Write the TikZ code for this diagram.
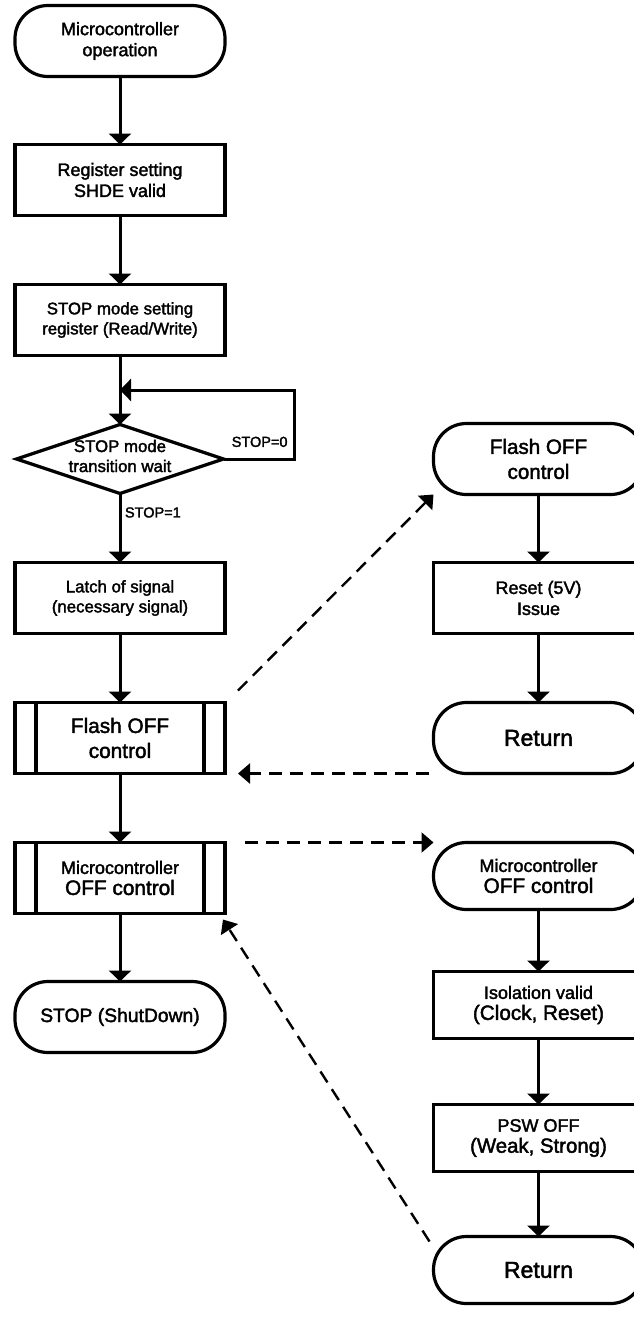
\documentclass[tikz,border=0pt]{standalone}
\usepackage{fontspec}
\setmainfont{Liberation Sans}[FakeBold=2]
\usetikzlibrary{shapes.geometric, arrows.meta, positioning, calc}

\begin{document}
\begin{tikzpicture}[
                x=1pt, y=1pt,
                every node/.style={align=center, inner sep=0pt, outer sep=0pt, font=\fontsize{18}{21}\selectfont},
                terminal/.style={rectangle, rounded corners=33pt, draw, line width=3.2pt, minimum width=210pt, minimum height=71pt},
                process/.style={rectangle, draw, line width=3.2pt, minimum width=210pt, minimum height=71pt},
                subproc/.style={process, path picture={
                    \draw[line width=3.2pt] ([xshift=21pt]path picture bounding box.north west) -- ([xshift=21pt]path picture bounding box.south west)
                        ([xshift=-21pt]path picture bounding box.north east) -- ([xshift=-21pt]path picture bounding box.south east);}},
                decision/.style={diamond, draw, line width=3.2pt, aspect=3, minimum width=207pt, minimum height=69pt},
                small/.style={font=\fontsize{16.8}{20}\selectfont},
                note/.style={font=\fontsize{14.5}{17}\selectfont},
                line/.style={-{Triangle[length=11pt,width=22pt]}, line width=3pt},
                link/.style={-{Triangle[length=12pt,width=20pt]}, line width=2.4pt, dash pattern=on 13pt off 8pt}
            ]
            \useasboundingbox (0,0) rectangle (634,-1330);

            \node[terminal] (start) at (120,-41) {Microcontroller\\operation};
            \node[process, below=68pt of start] (shde) {Register setting\\SHDE valid};
            \node[process, small, below=69pt of shde] (stopreg) {STOP mode setting\\register (Read/Write)};
            \node[decision, below=69pt of stopreg] (wait) {};
            \node[small] (waittext) at ([yshift=3pt]wait) {STOP mode\\transition wait};
            \node[process, small, below=69pt of wait] (latch) {Latch of signal\\(necessary signal)};
            \node[subproc, below=69pt of latch, font=\fontsize{20.8}{25}\selectfont] (flash) {Flash OFF\\control};
            \node[subproc, below=69pt of flash] (mcu) {Microcontroller\\{\fontsize{20.8}{25}\selectfont OFF control}};
            \node[terminal, below=68pt of mcu, font=\fontsize{19.3}{23}\selectfont] (halt) {STOP (ShutDown)};

            \draw[line] (start) -- (shde);
            \draw[line] (shde) -- (stopreg);
            \draw[line] (stopreg) -- (wait);
            \coordinate (back) at ($(stopreg.south)!0.5!(wait.north)$);
            \draw[line] (wait.east) -- ++(71,0) node[note, anchor=south east, xshift=-7pt, yshift=12pt] (stop0) {STOP=0} |- (back);
            \draw[line] (wait) -- node[note, pos=0.275, right=5pt] (stop1) {STOP=1} (latch);
            \draw[line] (latch) -- (flash);
            \draw[line] (flash) -- (mcu);
            \draw[line] (mcu) -- (halt);

            \node[terminal, right=210pt of wait, font=\fontsize{20.6}{25}\selectfont] (flashsub) {Flash OFF\\control};
            \node[process, below=68pt of flashsub] (reset) {Reset (5V)\\Issue};
            \node[terminal, below=69pt of reset, font=\fontsize{23}{27}\selectfont] (flashret) {Return};
            \draw[line] (flashsub) -- (reset);
            \draw[line] (reset) -- (flashret);

            \node[terminal, below=69pt of flashret, minimum height=67pt] (mcusub) {Microcontroller\\{\fontsize{20.8}{25}\selectfont OFF control}};
            \node[process, below=62pt of mcusub, minimum height=67pt] (iso) {Isolation valid\\{\fontsize{20.7}{25}\selectfont (Clock, Reset)}};
            \node[process, below=66pt of iso, minimum height=67pt] (psw) {PSW OFF\\{\fontsize{20.4}{25}\selectfont (Weak, Strong)}};
            \node[terminal, below=65pt of psw, minimum height=67pt, font=\fontsize{23}{27}\selectfont] (mcuret) {Return};
            \draw[line] (mcusub) -- (iso);
            \draw[line] (iso) -- (psw);
            \draw[line] (psw) -- (mcuret);

            \draw[link] ([shift={(13,12)}]flash.north east) -- (flashsub.south west);
            \draw[link] ([xshift=-5pt]flashret.south west) -- ([xshift=13pt]flash.south east);
            \draw[link] ([xshift=20pt]mcu.north east) -- (mcusub.north west);
            \draw[link] ([shift={(-4,-5)}]mcuret.north west) -- ([shift={(-2,-6)}]mcu.south east);
        \end{tikzpicture}
\end{document}
